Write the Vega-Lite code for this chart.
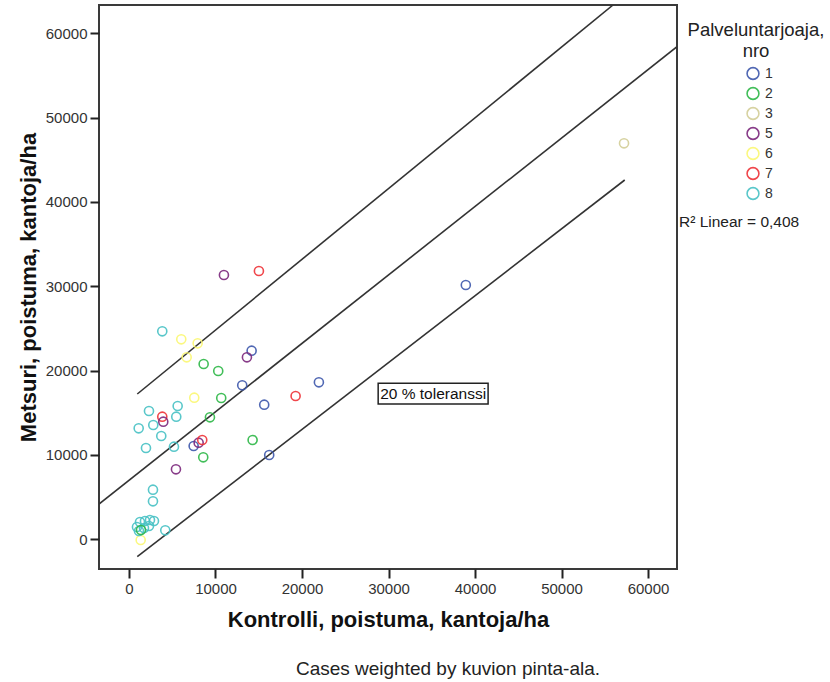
{
  "$schema": "https://vega.github.io/schema/vega-lite/v6.json",
  "width": 578,
  "height": 564,
  "autosize": {"type": "none"},
  "padding": {"left": 99, "top": 5, "right": 153, "bottom": 113},
  "background": "white",
  "title": {
    "text": "Cases weighted by kuvion pinta-ala.",
    "orient": "bottom",
    "anchor": "middle",
    "fontSize": 19,
    "fontWeight": "normal",
    "color": "#222",
    "font": "Liberation Sans",
    "offset": 30,
    "dx": 60
  },
  "datasets": {
    "pisteet": [
      {"kontrolli": 10976, "metsuri": 31341, "nro": "5"},
      {"kontrolli": 15020, "metsuri": 31816, "nro": "7"},
      {"kontrolli": 3848, "metsuri": 24665, "nro": "8"},
      {"kontrolli": 6043, "metsuri": 23716, "nro": "6"},
      {"kontrolli": 7938, "metsuri": 23242, "nro": "6"},
      {"kontrolli": 6667, "metsuri": 21582, "nro": "6"},
      {"kontrolli": 14177, "metsuri": 22365, "nro": "1"},
      {"kontrolli": 13634, "metsuri": 21582, "nro": "5"},
      {"kontrolli": 8631, "metsuri": 20787, "nro": "2"},
      {"kontrolli": 10318, "metsuri": 19957, "nro": "2"},
      {"kontrolli": 13091, "metsuri": 18262, "nro": "1"},
      {"kontrolli": 21953, "metsuri": 18617, "nro": "1"},
      {"kontrolli": 19261, "metsuri": 16993, "nro": "7"},
      {"kontrolli": 7545, "metsuri": 16791, "nro": "6"},
      {"kontrolli": 10664, "metsuri": 16756, "nro": "2"},
      {"kontrolli": 15633, "metsuri": 15961, "nro": "1"},
      {"kontrolli": 5627, "metsuri": 15807, "nro": "8"},
      {"kontrolli": 2311, "metsuri": 15214, "nro": "8"},
      {"kontrolli": 5465, "metsuri": 14538, "nro": "8"},
      {"kontrolli": 3848, "metsuri": 14538, "nro": "7"},
      {"kontrolli": 3963, "metsuri": 13945, "nro": "5"},
      {"kontrolli": 9359, "metsuri": 14467, "nro": "2"},
      {"kontrolli": 2808, "metsuri": 13554, "nro": "8"},
      {"kontrolli": 1121, "metsuri": 13163, "nro": "8"},
      {"kontrolli": 3732, "metsuri": 12250, "nro": "8"},
      {"kontrolli": 1964, "metsuri": 10826, "nro": "8"},
      {"kontrolli": 5199, "metsuri": 10981, "nro": "8"},
      {"kontrolli": 7475, "metsuri": 11064, "nro": "1"},
      {"kontrolli": 8053, "metsuri": 11455, "nro": "5"},
      {"kontrolli": 8469, "metsuri": 11775, "nro": "7"},
      {"kontrolli": 14292, "metsuri": 11775, "nro": "2"},
      {"kontrolli": 8585, "metsuri": 9724, "nro": "2"},
      {"kontrolli": 5430, "metsuri": 8301, "nro": "5"},
      {"kontrolli": 16210, "metsuri": 9997, "nro": "1"},
      {"kontrolli": 2773, "metsuri": 5882, "nro": "8"},
      {"kontrolli": 2773, "metsuri": 4506, "nro": "8"},
      {"kontrolli": 4194, "metsuri": 1067, "nro": "8"},
      {"kontrolli": 1352, "metsuri": -83, "nro": "6"},
      {"kontrolli": 38937, "metsuri": 30155, "nro": "1"},
      {"kontrolli": 57227, "metsuri": 46959, "nro": "3"},
      {"kontrolli": 924, "metsuri": 1459, "nro": "8"},
      {"kontrolli": 1271, "metsuri": 2051, "nro": "8"},
      {"kontrolli": 1849, "metsuri": 2170, "nro": "8"},
      {"kontrolli": 2426, "metsuri": 2289, "nro": "8"},
      {"kontrolli": 2889, "metsuri": 2170, "nro": "8"},
      {"kontrolli": 1155, "metsuri": 985, "nro": "8"},
      {"kontrolli": 1733, "metsuri": 1340, "nro": "8"},
      {"kontrolli": 2311, "metsuri": 1577, "nro": "8"},
      {"kontrolli": 1386, "metsuri": 1103, "nro": "2"}
    ],
    "viivat": [
      {"viiva": "sovite", "kontrolli": -3466, "metsuri": 4186},
      {"viiva": "sovite", "kontrolli": 63350, "metsuri": 58413},
      {"viiva": "ylä", "kontrolli": 959, "metsuri": 17230},
      {"viiva": "ylä", "kontrolli": 55956, "metsuri": 63359},
      {"viiva": "ala", "kontrolli": 959, "metsuri": -2063},
      {"viiva": "ala", "kontrolli": 57308, "metsuri": 42606}
    ],
    "laatikko": [
      {"kontrolli": 28805, "kontrolli2": 41513, "metsuri": 18499, "metsuri2": 16044}
    ],
    "tekstit": [
      {"teksti": "20 % toleranssi", "kontrolli": 35159, "metsuri": 17266}
    ],
    "selite": [
      {"teksti": "R² Linear = 0,408", "kontrolli": 63582, "metsuri": 37662}
    ]
  },
  "encoding": {
    "x": {
      "field": "kontrolli",
      "type": "quantitative",
      "scale": {"domain": [-3466, 63350], "nice": false, "zero": false},
      "axis": {
        "title": "Kontrolli, poistuma, kantoja/ha",
        "values": [0, 10000, 20000, 30000, 40000, 50000, 60000],
        "format": "d",
        "titlePadding": 13,
        "labelFlush": false,
        "labelOverlap": false
      }
    },
    "y": {
      "field": "metsuri",
      "type": "quantitative",
      "scale": {"domain": [-3522, 63359], "nice": false, "zero": false},
      "axis": {
        "title": "Metsuri, poistuma, kantoja/ha",
        "values": [0, 10000, 20000, 30000, 40000, 50000, 60000],
        "format": "d",
        "titlePadding": 5,
        "labelFlush": false,
        "labelOverlap": false
      }
    }
  },
  "layer": [
    {
      "data": {"name": "viivat"},
      "mark": {"type": "line", "color": "#333", "strokeWidth": 1.6, "clip": true},
      "encoding": {"detail": {"field": "viiva", "type": "nominal"}}
    },
    {
      "data": {"name": "laatikko"},
      "mark": {"type": "rect", "fill": "white", "stroke": "#222", "strokeWidth": 1.5},
      "encoding": {
        "x2": {"field": "kontrolli2"},
        "y2": {"field": "metsuri2"}
      }
    },
    {
      "data": {"name": "tekstit"},
      "mark": {"type": "text", "fontSize": 15.5, "color": "#111", "font": "Liberation Sans", "baseline": "middle", "align": "center"},
      "encoding": {"text": {"field": "teksti"}}
    },
    {
      "data": {"name": "pisteet"},
      "mark": {"type": "point", "shape": "circle", "filled": false, "size": 82, "strokeWidth": 1.6, "opacity": 0.9},
      "encoding": {
        "color": {
          "field": "nro",
          "type": "nominal",
          "scale": {
            "domain": ["1", "2", "3", "5", "6", "7", "8"],
            "range": ["#3E58AC", "#2EB848", "#D3CE97", "#7C287D", "#FBF873", "#EF3338", "#48C2C5"]
          },
          "legend": {"title": ["Palveluntarjoaja,", "nro"]}
        }
      }
    },
    {
      "data": {"name": "selite"},
      "mark": {"type": "text", "fontSize": 15.5, "color": "#222", "font": "Liberation Sans", "baseline": "middle", "align": "left", "clip": false},
      "encoding": {"text": {"field": "teksti"}}
    }
  ],
  "config": {
    "font": "Liberation Sans",
    "view": {"stroke": "#3a3a3a", "strokeWidth": 2},
    "axis": {
      "labelFont": "Liberation Sans",
      "labelFontSize": 15,
      "labelColor": "#333",
      "tickColor": "#222",
      "tickSize": 9,
      "tickWidth": 2,
      "labelPadding": 3,
      "grid": false,
      "domain": false,
      "titleFont": "Liberation Sans",
      "titleFontSize": 22,
      "titleFontWeight": "bold",
      "titleColor": "#111"
    },
    "legend": {
      "orient": "right",
      "offset": -5,
      "padding": 16,
      "titleFont": "Liberation Sans",
      "titleFontSize": 18.5,
      "titleFontWeight": "normal",
      "titleColor": "#222",
      "titleAnchor": "middle",
      "titleAlign": "center",
      "titleLineHeight": 21,
      "titlePadding": 6,
      "labelFont": "Liberation Sans",
      "labelFontSize": 14,
      "labelColor": "#333",
      "symbolSize": 140,
      "symbolStrokeWidth": 1.6,
      "symbolOffset": 6,
      "labelOffset": 5,
      "rowPadding": 0
    }
  }
}
